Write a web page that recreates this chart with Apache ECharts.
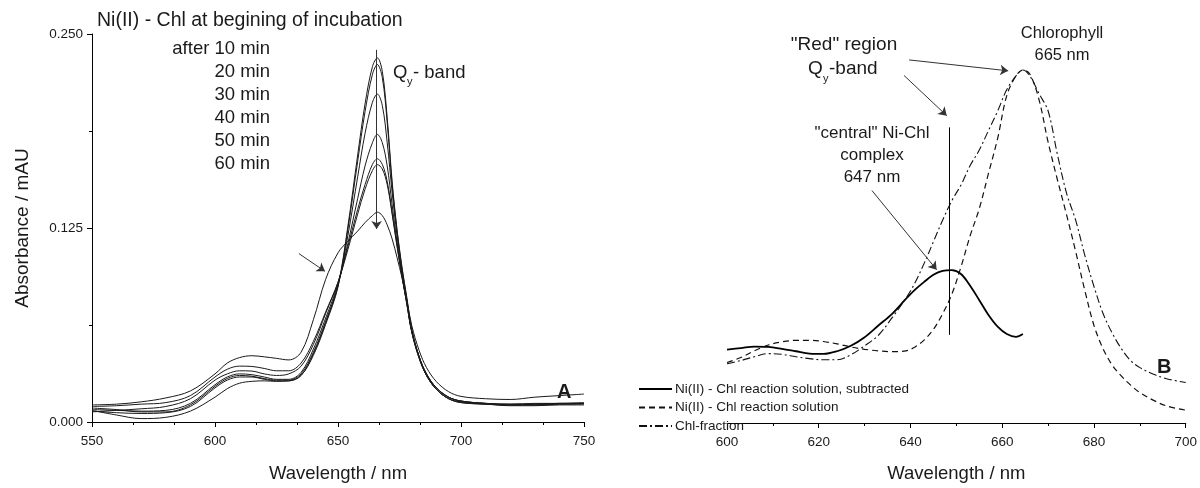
<!DOCTYPE html>
<html>
<head>
<meta charset="utf-8">
<script src="https://cdn.jsdelivr.net/npm/echarts@6/dist/echarts.min.js"></script>
<style>
  html, body { margin: 0; padding: 0; background: #fff; }
  #main { width: 1200px; height: 488px; }
</style>
</head>
<body>
<div id="main"></div>
<script>
'use strict';

// panel A: wavelength grid and the seven incubation spectra
var wlA = [550, 560, 570, 580, 590, 600, 605, 610, 615, 620, 625, 630, 635, 640, 645, 650, 654, 658, 661, 664,
  666, 668, 670, 672, 674, 676, 678, 680, 683, 686, 690, 695, 700, 710, 720, 730, 740, 750];
var start = [.0075, .0045, .0022, .0030, .0070, .0160, .0215, .0250, .0262, .0265, .0262, .0265, .0300, .0440, .0640, .0880, .1260, .1720, .2050, .2290,
  .2346, .2260, .1960, .1550, .1240, .1000, .0800, .0600, .0420, .0300, .0210, .0150, .0125, .0115, .0105, .0105, .0110, .0110];
var min10 = [.0070, .0060, .0055, .0060, .0100, .0220, .0270, .0290, .0290, .0275, .0265, .0265, .0300, .0430, .0630, .0870, .1240, .1680, .2000, .2240,
  .2303, .2220, .1930, .1530, .1230, .0990, .0790, .0590, .0420, .0300, .0210, .0150, .0125, .0115, .0110, .0110, .0115, .0115];
var min20 = [.0090, .0080, .0065, .0065, .0110, .0230, .0280, .0300, .0295, .0280, .0270, .0270, .0310, .0450, .0650, .0880, .1200, .1580, .1860, .2060,
  .2113, .2040, .1800, .1480, .1200, .0970, .0780, .0580, .0410, .0300, .0210, .0150, .0130, .0115, .0110, .0110, .0115, .0120];
var min30 = [.0080, .0075, .0070, .0075, .0120, .0240, .0290, .0310, .0305, .0290, .0275, .0275, .0320, .0470, .0670, .0890, .1150, .1440, .1650, .1800,
  .1853, .1800, .1650, .1400, .1160, .0950, .0760, .0580, .0410, .0300, .0220, .0160, .0135, .0120, .0115, .0115, .0120, .0120];
var min40 = [.0065, .0075, .0085, .0100, .0150, .0270, .0310, .0330, .0328, .0310, .0300, .0310, .0360, .0500, .0700, .0900, .1130, .1370, .1530, .1660,
  .1696, .1660, .1550, .1350, .1140, .0940, .0760, .0580, .0420, .0310, .0220, .0160, .0135, .0120, .0110, .0115, .0120, .0120];
var min50 = [.0100, .0105, .0115, .0125, .0170, .0290, .0340, .0360, .0358, .0345, .0330, .0330, .0380, .0520, .0710, .0900, .1110, .1340, .1500, .1620,
  .1658, .1630, .1530, .1340, .1130, .0940, .0760, .0580, .0420, .0310, .0220, .0160, .0135, .0120, .0115, .0120, .0120, .0125];
var min60 = [.0110, .0115, .0130, .0155, .0200, .0310, .0380, .0415, .0427, .0420, .0410, .0400, .0450, .0660, .0920, .1090, .1165, .1230, .1285, .1330,
  .1352, .1330, .1270, .1180, .1060, .0930, .0780, .0620, .0460, .0350, .0260, .0195, .0165, .0150, .0145, .0160, .0170, .0180];
var timeLabels = ['after 10 min', '20 min', '30 min', '40 min', '50 min', '60 min'];

// panel B: wavelength grid and the three spectra (relative units)
var wlB = [600, 603, 606, 609, 612, 615, 618, 621, 624, 627, 630, 633, 636, 639, 641, 643, 645, 647, 649, 651, 653, 655,
  657, 659, 661, 663, 664.5, 666, 668, 670, 672, 674, 676, 678, 680, 682, 684, 686, 688, 690, 693, 696, 700];
var subtracted = [.188, .192, .196, .195, .190, .184, .178, .177, .184, .198, .220, .250, .280, .318, .342, .362, .380, .390, .392, .382, .352, .315,
  .277, .247, .228, .221, .228, null, null, null, null, null, null, null, null, null, null, null, null, null, null, null, null];
var reaction = [.155, .168, .185, .200, .208, .212, .212, .209, .203, .195, .189, .185, .183, .185, .195, .213, .240, .280, .330, .400, .480, .550,
  .640, .730, .840, .890, .905, .895, .830, .720, .625, .535, .440, .340, .250, .190, .148, .120, .097, .078, .058, .043, .033];
var chlFraction = [.152, .160, .170, .178, .176, .170, .165, .162, .162, .175, .198, .225, .270, .320, .360, .410, .465, .520, .570, .610, .660, .700,
  .750, .800, .855, .890, .905, .890, .845, .800, .690, .590, .520, .430, .350, .280, .230, .190, .160, .142, .125, .113, .104];
var legendB = ['Ni(II) - Chl reaction solution, subtracted', 'Ni(II) - Chl reaction solution', 'Chl-fraction'];

function pairs(xs, ys) {
  return xs.map(function(x, i) { return [x, ys[i]]; });
}

var FONT = '"Liberation Sans", Arial, sans-serif';
var INK = '#1a1a1a';

var myChart = echarts.init(document.getElementById('main'));

function xAxisStyle(grid, min, max, interval, minorSplit, nameGap) {
  return {
    type: 'value', gridIndex: grid, min: min, max: max, interval: interval,
    name: 'Wavelength / nm', nameLocation: 'middle', nameGap: nameGap,
    nameTextStyle: { fontFamily: FONT, fontSize: 18.5, color: INK },
    axisLine: { onZero: false, lineStyle: { color: '#000', width: 1 } },
    axisTick: { length: 5, lineStyle: { color: '#000' } },
    minorTick: { show: true, splitNumber: minorSplit, length: 3, lineStyle: { color: '#000' } },
    splitLine: { show: false },
    axisLabel: { fontFamily: FONT, fontSize: 13.5, color: INK, margin: 12 }
  };
}

function lineA(name, values) {
  return {
    name: name, type: 'line', xAxisIndex: 0, yAxisIndex: 0,
    data: pairs(wlA, values), smooth: 0.35, symbol: 'none',
    lineStyle: { color: INK, width: 1 }
  };
}

// single line texts are centred on y, blocks (with lineHeight) hang from y
function text(x, y, str, font, align, lineHeight) {
  var va = lineHeight ? 'top' : 'middle';
  return {
    type: 'text', x: x, y: y,
    style: { text: str, font: font, fill: INK, textAlign: align || 'left', textVerticalAlign: va,
      align: align || 'left', verticalAlign: va, lineHeight: lineHeight }
  };
}

var arrowStyle = { color: '#333', width: 1, type: 'solid' };

var seriesA = [
  lineA('start', start), lineA('10 min', min10), lineA('20 min', min20), lineA('30 min', min30),
  lineA('40 min', min40), lineA('50 min', min50), lineA('60 min', min60)
];
// arrows of panel A
seriesA[0].markLine = {
  silent: true, symbol: ['none', 'arrow'], symbolSize: 8, label: { show: false },
  lineStyle: arrowStyle, animation: false,
  data: [
    [{ coord: [665.7, 0.2398] }, { coord: [665.7, 0.1244] }],
    [{ coord: [634.1, 0.1085] }, { coord: [644.7, 0.0971] }]
  ]
};

var seriesB = [
  {
    name: legendB[0], type: 'line', xAxisIndex: 1, yAxisIndex: 1,
    data: pairs(wlB, subtracted), smooth: 0.35, symbol: 'none',
    lineStyle: { color: '#000', width: 1.8 }, itemStyle: { color: '#000' },
    markLine: {
      silent: true, symbol: ['none', 'none'], label: { show: false },
      lineStyle: { color: '#000', width: 1, type: 'solid' }, animation: false,
      data: [[{ coord: [648.5, 0.758] }, { coord: [648.5, 0.226] }]]
    }
  },
  {
    name: legendB[1], type: 'line', xAxisIndex: 1, yAxisIndex: 1,
    data: pairs(wlB, reaction), smooth: 0.35, symbol: 'none',
    lineStyle: { color: '#111', width: 1.2, type: [6, 4] }, itemStyle: { color: '#111' },
    markLine: {
      silent: true, symbol: ['none', 'arrow'], symbolSize: 8, label: { show: false },
      lineStyle: arrowStyle, animation: false,
      data: [
        [{ coord: [638.6, 0.891] }, { coord: [647.9, 0.788] }],
        [{ coord: [639.7, 0.931] }, { coord: [661.3, 0.903] }],
        [{ coord: [631.6, 0.596] }, { coord: [645.7, 0.393] }]
      ]
    }
  },
  {
    name: legendB[2], type: 'line', xAxisIndex: 1, yAxisIndex: 1,
    data: pairs(wlB, chlFraction), smooth: 0.35, symbol: 'none',
    lineStyle: { color: '#111', width: 1.1, type: [8, 3, 2, 3] }, itemStyle: { color: '#111' }
  }
];

var option = {
  backgroundColor: '#fff',
  animation: false,
  grid: [
    { left: 92, right: 616, top: 34, bottom: 60 },
    { left: 727, right: 11, top: 33, bottom: 55 }
  ],
  xAxis: [
    xAxisStyle(0, 550, 750, 50, 3, 42),
    xAxisStyle(1, 600, 700, 20, 2, 41)
  ],
  yAxis: [
    {
      type: 'value', gridIndex: 0, min: 0, max: 0.25, interval: 0.125,
      name: 'Absorbance / mAU', nameLocation: 'middle', nameGap: 60,
      nameTextStyle: { fontFamily: FONT, fontSize: 19, color: INK },
      axisLine: { show: true, lineStyle: { color: '#000', width: 1 } },
      axisTick: { show: true, length: 5, lineStyle: { color: '#000' } },
      minorTick: { show: true, splitNumber: 2, length: 3, lineStyle: { color: '#000' } },
      splitLine: { show: false },
      axisLabel: { fontFamily: FONT, fontSize: 13.5, color: INK, margin: 9,
        formatter: function(v) { return v.toFixed(3); } }
    },
    { type: 'value', gridIndex: 1, min: 0, max: 1, show: false }
  ],
  legend: {
    data: legendB, orient: 'vertical', left: 633, top: 377,
    itemWidth: 33, itemHeight: 14, itemGap: 4.5,
    itemStyle: { color: 'transparent', borderWidth: 0, opacity: 0 },
    textStyle: { fontFamily: FONT, fontSize: 13.5, color: INK, padding: [0, 0, 0, -2] }
  },
  graphic: [
    text(97, 21, 'Ni(II) - Chl at begining of incubation', '19.5px ' + FONT),
    text(270, 37, timeLabels.join('\n'), '18.5px ' + FONT, 'right', 23),
    text(393, 73, 'Q', '18.5px ' + FONT),
    text(407, 82, 'y', '11px ' + FONT),
    text(413, 73, '- band', '18.5px ' + FONT),
    text(557, 392, 'A', 'bold 20px ' + FONT),

    text(844, 45, '"Red" region', '19px ' + FONT, 'center'),
    text(808, 69, 'Q', '19px ' + FONT),
    text(823, 79, 'y', '11px ' + FONT),
    text(829, 69, '-band', '19px ' + FONT),
    text(872, 122, '"central" Ni-Chl\ncomplex\n647 nm', '17px ' + FONT, 'center', 22),
    text(1062, 22, 'Chlorophyll\n665 nm', '16.5px ' + FONT, 'center', 22),
    text(1157, 367, 'B', 'bold 20px ' + FONT)
  ],
  series: seriesA.concat(seriesB)
};

myChart.setOption(option);
</script>
</body>
</html>
